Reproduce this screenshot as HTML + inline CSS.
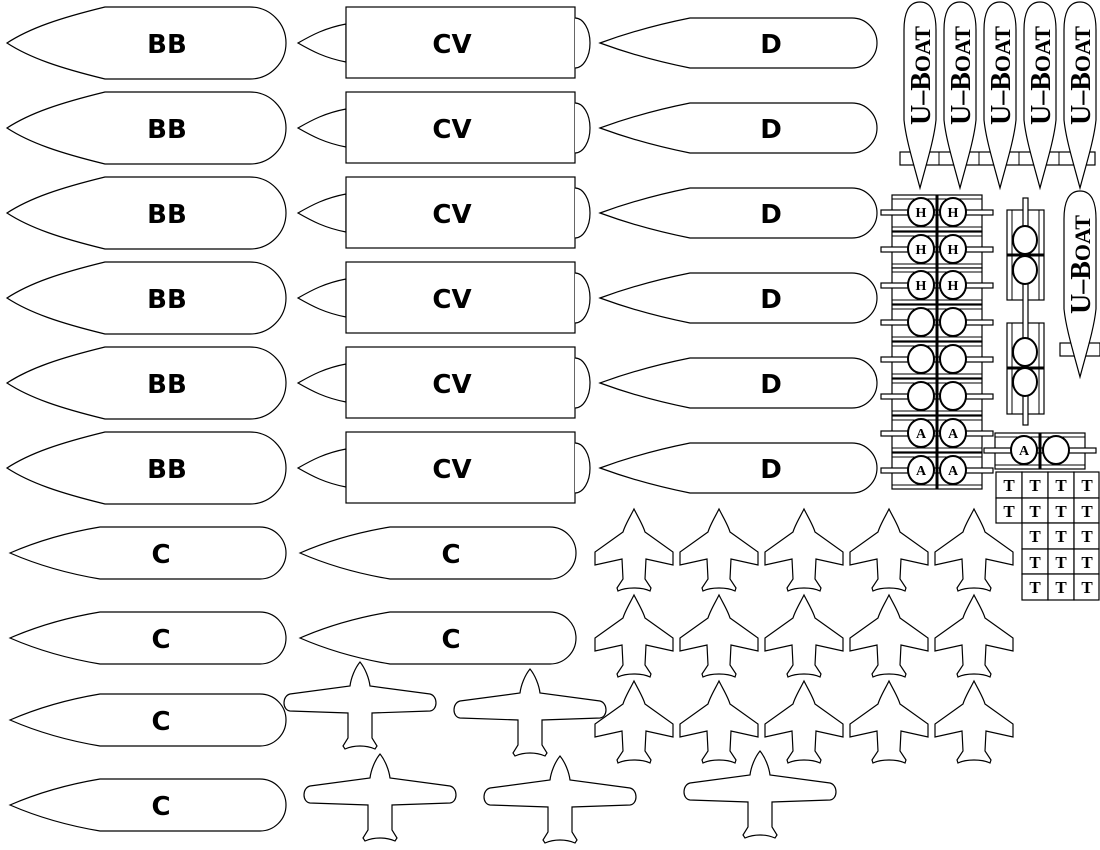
<!DOCTYPE html>
<html><head><meta charset="utf-8"><style>
html,body{margin:0;padding:0;background:#fff;}
svg{display:block;}
.lbl{font-family:"DejaVu Sans","Liberation Sans",sans-serif;font-weight:bold;font-size:26px;fill:#000;text-anchor:middle;}
.ub{font-family:"Liberation Serif",serif;font-weight:bold;font-size:28px;fill:#000;text-anchor:start;}
.sm{font-family:"Liberation Serif",serif;font-weight:bold;font-size:14px;fill:#000;text-anchor:middle;}
.tt{font-family:"Liberation Serif",serif;font-weight:bold;font-size:17px;fill:#000;text-anchor:middle;}
.o{fill:#fff;stroke:#000;stroke-width:1.2;}
.t{fill:#fff;stroke:#000;stroke-width:2;}
</style></head><body>
<svg width="1100" height="850" viewBox="0 0 1100 850" xmlns="http://www.w3.org/2000/svg">
<defs>
<path id="bb" class="o" d="M7,43 C30,28 60,18 105,7 L250,7 A36,36 0 0 1 250,79 L105,79 C60,68 30,58 7,43 Z"/>
<g id="cv"><path class="o" d="M298,43 C312,35 325,28 346,24 L346,62 C325,58 312,51 298,43 Z"/><rect class="o" x="346" y="7" width="229" height="71"/><path class="o" d="M575,18 A15,25 0 0 1 575,68"/></g>
<path id="dd" class="o" d="M600,43 C630,32 660,24 690,18 L852,18 A25,25 0 0 1 852,68 L690,68 C660,62 630,54 600,43 Z"/>
<path id="cc" class="o" d="M10,553 C40,540 70,532 100,527 L260,527 A26,26 0 0 1 260,579 L100,579 C70,574 40,566 10,553 Z"/>
<path id="jet" class="o" d="M0,0 C-4,8 -9,16 -11,23 L-39,43 L-39,56 L-12,50 L-11,70 L-17,79 L-16,82 C-8,78 8,78 16,82 L17,79 L11,70 L12,50 L39,56 L39,43 L11,23 C9,16 4,8 0,0 Z"/>
<path id="prop" class="o" d="M0,0 C-5,6 -9,16 -10,24 L-70,32 C-78,34 -78,48 -70,49 L-12,51 L-12,76 L-17,84 L-15,87 C-6,83 6,83 15,87 L17,84 L12,76 L12,51 L70,49 C78,48 78,34 70,32 L10,24 C9,16 5,6 0,0 Z"/>
<path id="uboat" class="o" d="M0,2 C12,2 16,14 16,30 L16,120 C14,140 6,165 0,188 C-6,165 -14,140 -16,120 L-16,30 C-16,14 -12,2 0,2 Z"/>
<g id="hrow"><rect class="o" x="892" y="-17" width="90" height="36"/><line x1="892" y1="-13" x2="982" y2="-13" stroke="#000"/><line x1="892" y1="15" x2="982" y2="15" stroke="#000"/><rect class="o" x="881" y="-2" width="112" height="5"/><ellipse class="t" cx="921" cy="0" rx="13" ry="14"/><ellipse class="t" cx="953" cy="0" rx="13" ry="14"/><line x1="937" y1="-17" x2="937" y2="19" stroke="#000" stroke-width="3"/></g>
</defs>

<g>
<g><use href="#bb"/><text class="lbl" x="167" y="53">BB</text></g>
<g transform="translate(0,85)"><use href="#bb"/><text class="lbl" x="167" y="53">BB</text></g>
<g transform="translate(0,170)"><use href="#bb"/><text class="lbl" x="167" y="53">BB</text></g>
<g transform="translate(0,255)"><use href="#bb"/><text class="lbl" x="167" y="53">BB</text></g>
<g transform="translate(0,340)"><use href="#bb"/><text class="lbl" x="167" y="53">BB</text></g>
<g transform="translate(0,425)"><use href="#bb"/><text class="lbl" x="167" y="53">BB</text></g>
</g>
<g>
<g><use href="#cv"/><text class="lbl" x="452" y="53">CV</text></g>
<g transform="translate(0,85)"><use href="#cv"/><text class="lbl" x="452" y="53">CV</text></g>
<g transform="translate(0,170)"><use href="#cv"/><text class="lbl" x="452" y="53">CV</text></g>
<g transform="translate(0,255)"><use href="#cv"/><text class="lbl" x="452" y="53">CV</text></g>
<g transform="translate(0,340)"><use href="#cv"/><text class="lbl" x="452" y="53">CV</text></g>
<g transform="translate(0,425)"><use href="#cv"/><text class="lbl" x="452" y="53">CV</text></g>
</g>
<g>
<g><use href="#dd"/><text class="lbl" x="771" y="53">D</text></g>
<g transform="translate(0,85)"><use href="#dd"/><text class="lbl" x="771" y="53">D</text></g>
<g transform="translate(0,170)"><use href="#dd"/><text class="lbl" x="771" y="53">D</text></g>
<g transform="translate(0,255)"><use href="#dd"/><text class="lbl" x="771" y="53">D</text></g>
<g transform="translate(0,340)"><use href="#dd"/><text class="lbl" x="771" y="53">D</text></g>
<g transform="translate(0,425)"><use href="#dd"/><text class="lbl" x="771" y="53">D</text></g>
</g>
<g>
<g><use href="#cc"/><text class="lbl" x="161" y="563">C</text></g>
<g transform="translate(0,85)"><use href="#cc"/><text class="lbl" x="161" y="563">C</text></g>
<g transform="translate(0,167)"><use href="#cc"/><text class="lbl" x="161" y="563">C</text></g>
<g transform="translate(0,252)"><use href="#cc"/><text class="lbl" x="161" y="563">C</text></g>
<g transform="translate(290,0)"><use href="#cc"/><text class="lbl" x="161" y="563">C</text></g>
<g transform="translate(290,85)"><use href="#cc"/><text class="lbl" x="161" y="563">C</text></g>
</g>

<g>
<rect class="o" x="900" y="152" width="195" height="13"/>
<line x1="939" y1="152" x2="939" y2="165" stroke="#000"/><line x1="979" y1="152" x2="979" y2="165" stroke="#000"/><line x1="1019" y1="152" x2="1019" y2="165" stroke="#000"/><line x1="1059" y1="152" x2="1059" y2="165" stroke="#000"/>
<g transform="translate(920,0)"><use href="#uboat"/><text class="ub" transform="translate(10,125) rotate(-90)">U–B<tspan font-size="22">OAT</tspan></text></g>
<g transform="translate(960,0)"><use href="#uboat"/><text class="ub" transform="translate(10,125) rotate(-90)">U–B<tspan font-size="22">OAT</tspan></text></g>
<g transform="translate(1000,0)"><use href="#uboat"/><text class="ub" transform="translate(10,125) rotate(-90)">U–B<tspan font-size="22">OAT</tspan></text></g>
<g transform="translate(1040,0)"><use href="#uboat"/><text class="ub" transform="translate(10,125) rotate(-90)">U–B<tspan font-size="22">OAT</tspan></text></g>
<g transform="translate(1080,0)"><use href="#uboat"/><text class="ub" transform="translate(10,125) rotate(-90)">U–B<tspan font-size="22">OAT</tspan></text></g>
<rect class="o" x="1060" y="343" width="40" height="13"/>
<g transform="translate(1080,189)"><use href="#uboat"/><text class="ub" transform="translate(10,125) rotate(-90)">U–B<tspan font-size="22">OAT</tspan></text></g>
</g>

<g>
<g transform="translate(0,212)"><use href="#hrow"/><text class="sm" x="921" y="5">H</text><text class="sm" x="953" y="5">H</text></g>
<g transform="translate(0,249)"><use href="#hrow"/><text class="sm" x="921" y="5">H</text><text class="sm" x="953" y="5">H</text></g>
<g transform="translate(0,285)"><use href="#hrow"/><text class="sm" x="921" y="5">H</text><text class="sm" x="953" y="5">H</text></g>
<g transform="translate(0,322)"><use href="#hrow"/></g>
<g transform="translate(0,359)"><use href="#hrow"/></g>
<g transform="translate(0,396)"><use href="#hrow"/></g>
<g transform="translate(0,433)"><use href="#hrow"/><text class="sm" x="921" y="5">A</text><text class="sm" x="953" y="5">A</text></g>
<g transform="translate(0,470)"><use href="#hrow"/><text class="sm" x="921" y="5">A</text><text class="sm" x="953" y="5">A</text></g>
<g transform="translate(103,450)"><use href="#hrow"/><text class="sm" x="921" y="5">A</text></g>
</g>
<g>
<rect class="o" x="1007" y="210" width="37" height="90"/><rect class="o" x="1007" y="323" width="37" height="91"/>
<line x1="1012" y1="210" x2="1012" y2="300" stroke="#000"/><line x1="1039" y1="210" x2="1039" y2="300" stroke="#000"/>
<line x1="1012" y1="323" x2="1012" y2="414" stroke="#000"/><line x1="1039" y1="323" x2="1039" y2="414" stroke="#000"/>
<rect class="o" x="1023" y="198" width="5" height="227"/>
<line x1="1007" y1="255" x2="1044" y2="255" stroke="#000" stroke-width="3"/><line x1="1007" y1="368" x2="1044" y2="368" stroke="#000" stroke-width="3"/>
<ellipse class="t" cx="1025" cy="240" rx="12" ry="14"/><ellipse class="t" cx="1025" cy="270" rx="12" ry="14"/>
<ellipse class="t" cx="1025" cy="352" rx="12" ry="14"/><ellipse class="t" cx="1025" cy="382" rx="12" ry="14"/>
</g>
<g>
<rect class="o" x="996" y="472" width="26" height="26"/><text class="tt" x="1009" y="491">T</text>
<rect class="o" x="1022" y="472" width="26" height="26"/><text class="tt" x="1035" y="491">T</text>
<rect class="o" x="1048" y="472" width="26" height="26"/><text class="tt" x="1061" y="491">T</text>
<rect class="o" x="1074" y="472" width="25" height="26"/><text class="tt" x="1087" y="491">T</text>
<rect class="o" x="996" y="498" width="26" height="25"/><text class="tt" x="1009" y="517">T</text>
<rect class="o" x="1022" y="498" width="26" height="25"/><text class="tt" x="1035" y="517">T</text>
<rect class="o" x="1048" y="498" width="26" height="25"/><text class="tt" x="1061" y="517">T</text>
<rect class="o" x="1074" y="498" width="25" height="25"/><text class="tt" x="1087" y="517">T</text>
<rect class="o" x="1022" y="523" width="26" height="26"/><text class="tt" x="1035" y="542">T</text>
<rect class="o" x="1048" y="523" width="26" height="26"/><text class="tt" x="1061" y="542">T</text>
<rect class="o" x="1074" y="523" width="25" height="26"/><text class="tt" x="1087" y="542">T</text>
<rect class="o" x="1022" y="549" width="26" height="25"/><text class="tt" x="1035" y="568">T</text>
<rect class="o" x="1048" y="549" width="26" height="25"/><text class="tt" x="1061" y="568">T</text>
<rect class="o" x="1074" y="549" width="25" height="25"/><text class="tt" x="1087" y="568">T</text>
<rect class="o" x="1022" y="574" width="26" height="26"/><text class="tt" x="1035" y="593">T</text>
<rect class="o" x="1048" y="574" width="26" height="26"/><text class="tt" x="1061" y="593">T</text>
<rect class="o" x="1074" y="574" width="25" height="26"/><text class="tt" x="1087" y="593">T</text>
</g>

<g>
<use href="#jet" x="634" y="509"/><use href="#jet" x="719" y="509"/><use href="#jet" x="804" y="509"/><use href="#jet" x="889" y="509"/><use href="#jet" x="974" y="509"/>
<use href="#jet" x="634" y="595"/><use href="#jet" x="719" y="595"/><use href="#jet" x="804" y="595"/><use href="#jet" x="889" y="595"/><use href="#jet" x="974" y="595"/>
<use href="#jet" x="634" y="681"/><use href="#jet" x="719" y="681"/><use href="#jet" x="804" y="681"/><use href="#jet" x="889" y="681"/><use href="#jet" x="974" y="681"/>
</g>
<g>
<use href="#prop" x="360" y="662"/><use href="#prop" x="530" y="669"/>
<use href="#prop" x="380" y="754"/><use href="#prop" x="560" y="756"/><use href="#prop" x="760" y="751"/>
</g>
</svg>
</body></html>
